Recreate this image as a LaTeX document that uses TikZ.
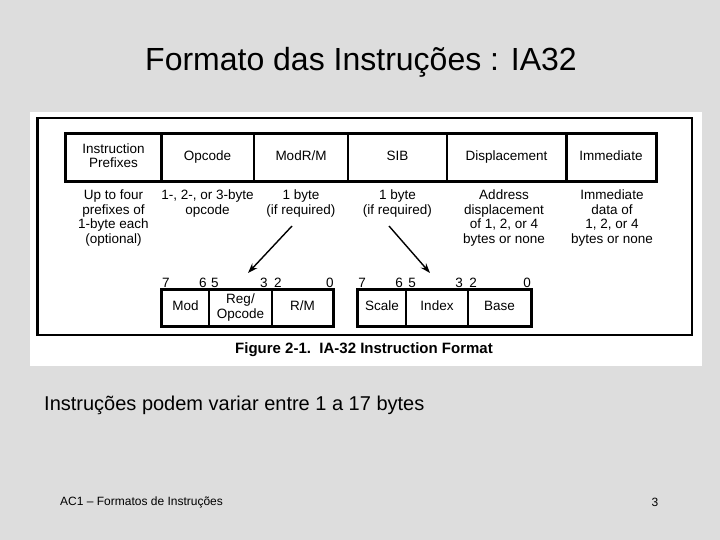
\documentclass[tikz,border=0pt]{standalone}
\usepackage{fontspec}
\setmainfont{Liberation Sans}
\usetikzlibrary{arrows.meta}
\definecolor{slidebg}{HTML}{DDDDDD}
\newcommand\dtext{\fontsize{13.5}{14.5}\selectfont}
\newcommand\sline[1]{#1\strut}
\begin{document}
\begin{tikzpicture}[x=1pt,y=-1pt,
  cell/.style={draw, line width=1.5pt, inner sep=0pt, align=center, font=\dtext},
  desc/.style={anchor=north, inner sep=0pt, align=center, font=\dtext},
  bitlbl/.style={anchor=base, inner sep=0pt, font=\dtext},
  thickline/.style={line width=2.5pt},
  ptr/.style={line width=1.4pt, -{Stealth[length=10pt,width=7pt]}}]
\fill[slidebg] (0,0) rectangle (720,540);
\useasboundingbox (0,0) rectangle (720,540);
% title
\node[font=\fontsize{32}{38}\selectfont] (title) at (361,62) {Formato das Instruções : IA32};
% white figure area
\fill[white] (30,112) rectangle (702,366);
\draw[thickline] (37.5,118) rectangle (692,335);
% header cells
\node[cell, minimum width=95pt, minimum height=47pt] (h1) at (113.5,157.5) {\sline{Instruction}\\\sline{Prefixes}};
\node[cell, minimum width=93pt, minimum height=47pt] (h2) at (207.5,157.5) {\sline{Opcode}};
\node[cell, minimum width=94pt, minimum height=47pt] (h3) at (301,157.5) {\sline{ModR/M}};
\node[cell, minimum width=99pt, minimum height=47pt] (h4) at (397.5,157.5) {\sline{SIB}};
\node[cell, minimum width=119pt, minimum height=47pt] (h5) at (506.5,157.5) {\sline{Displacement}};
\node[cell, minimum width=90pt, minimum height=47pt] (h6) at (611,157.5) {\sline{Immediate}};
\draw[thickline] (h1.north west) rectangle (h6.south east);
\draw[thickline] (h1.north east) -- (h1.south east);
\draw[thickline] (h5.north east) -- (h5.south east);
% descriptions
\node[desc] (d1) at (113.5,190) {Up to four\\prefixes of\\1-byte each\\(optional)};
\node[desc] (d2) at (207.5,190) {1-, 2-, or 3-byte\\opcode};
\node[desc] (d3) at (301,190) {1 byte\\(if required)};
\node[desc] (d4) at (397.5,190) {1 byte\\(if required)};
\node[desc] (d5) at (504,190) {Address\\displacement\\of 1, 2, or 4\\bytes or none};
\node[desc] (d6) at (612,190) {Immediate\\data of\\1, 2, or 4\\bytes or none};
% ModR/M byte
\node[cell, minimum width=47pt, minimum height=36pt] (mod) at (185.5,308) {\sline{Mod}};
\node[cell, minimum width=63pt, minimum height=36pt] (reg) at (240.5,308) {\sline{Reg/}\\\sline{Opcode}};
\node[cell, minimum width=61pt, minimum height=36pt] (rm) at (302.5,308) {\sline{R/M}};
\draw[thickline] (mod.north west) rectangle (rm.south east);
% SIB byte
\node[cell, minimum width=48pt, minimum height=36pt] (scale) at (382,308) {\sline{Scale}};
\node[cell, minimum width=62pt, minimum height=36pt] (index) at (437,308) {\sline{Index}};
\node[cell, minimum width=63pt, minimum height=36pt] (base) at (499.5,308) {\sline{Base}};
\draw[thickline] (scale.north west) rectangle (base.south east);
% bit numbers
\foreach \x/\t/\n in {166/7/a,203/6/b,215/5/c,264/3/d,278/2/e,330/0/f,
                     362/7/g,399/6/h,412/5/i,459/3/j,473/2/k,527/0/l}
  \node[bitlbl] (bit\n) at (\x,287) {\t};
% arrows
\coordinate (m1from) at (292,226);
\coordinate (m1to) at (248,273);
\coordinate (s1from) at (389,226);
\coordinate (s1to) at (430,273);
\draw[ptr] (m1from) -- (m1to);
\draw[ptr] (s1from) -- (s1to);
% caption
\node[font=\bfseries\fontsize{15}{18}\selectfont] (cap) at (364,350) {Figure 2-1.\ \ IA-32 Instruction Format};
% body text
\node[anchor=west, inner sep=0pt, font=\fontsize{20}{24}\selectfont] (body) at (44,405) {Instruções podem variar entre 1 a 17 bytes};
% footer
\node[anchor=west, inner sep=0pt, font=\fontsize{12}{14}\selectfont] (foot) at (60,502) {AC1 – Formatos de Instruções};
\node[inner sep=0pt, font=\fontsize{12}{14}\selectfont] (pnum) at (655,502) {3};
\end{tikzpicture}
\end{document}
